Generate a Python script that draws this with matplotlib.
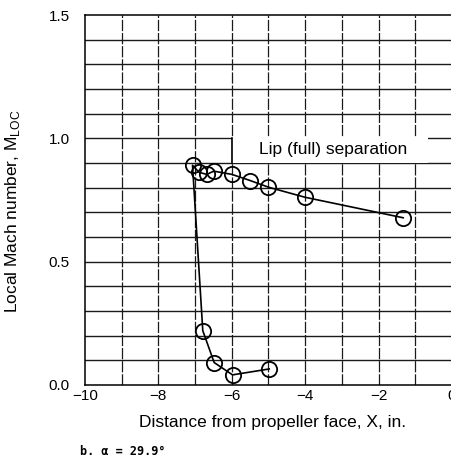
import matplotlib.pyplot as plt
from matplotlib.patches import Rectangle
import numpy as np

# upper branch (lip separation) then the drop to the lower branch
x_dist = [-1.33, -4.0, -5.0, -5.5, -6.0, -6.49, -6.68, -6.89, -7.07,
          -6.79, -6.48, -5.98, -4.98]
m_loc = [0.678, 0.761, 0.802, 0.829, 0.854, 0.867, 0.854, 0.862, 0.891,
         0.220, 0.091, 0.041, 0.065]

x_ticks = [-10, -8, -6, -4, -2, 0]
x_tick_labels = ['\u221210', '\u22128', '\u22126', '\u22124', '\u22122', '0']
y_ticks = [0.0, 0.5, 1.0, 1.5]
y_tick_labels = ['0.0', '0.5', '1.0', '1.5']

plt.rcParams['font.family'] = ['Liberation Sans', 'DejaVu Sans']

fig = plt.figure(figsize=(4.52, 4.63), dpi=100)
ax = fig.add_axes([0.188, 0.1685, 0.812, 0.799])

ax.set_xlim(-10, 0)
ax.set_ylim(0, 1.5)

# grid: every 0.1 in M, every 1 in. in X
for yv in np.arange(0.1, 1.5, 0.1):
    ax.axhline(yv, color='#1a1a1a', lw=1.0, zorder=1)
for xv in range(-9, 0):
    ax.axvline(xv, color='#1a1a1a', lw=0.9, ls=(0, (9, 1.5)), zorder=1)

ax.plot(x_dist, m_loc, color='black', lw=1.2, marker='o', ms=11,
        mfc='none', mec='black', mew=1.3, zorder=3)

# white label panel over the grid
ax.add_patch(Rectangle((-6, 0.9), 5.35, 0.105, fc='white', ec='none', zorder=2))
ax.plot([-6, -6], [0.9, 1.0], color='black', lw=1.2, zorder=2)
ax.text(-3.25, 0.955, 'Lip (full) separation', fontsize=12.5, ha='center',
        va='center', zorder=4)

ax.set_xticks(x_ticks)
ax.set_xticklabels(x_tick_labels)
ax.set_yticks(y_ticks)
ax.set_yticklabels(y_tick_labels)
ax.tick_params(length=0, labelsize=11)
ax.tick_params(axis='x', pad=3)
ax.tick_params(axis='y', pad=11)

ax.set_xlabel('Distance from propeller face, X, in.', fontsize=12.5)
ax.xaxis.set_label_coords(0.51, -0.08)
ax.set_ylabel(r'Local Mach number, M$_{\mathregular{LOC}}$', fontsize=12.5)
ax.yaxis.set_label_coords(-0.172, 0.47)

for s in ax.spines.values():
    s.set_linewidth(1.1)

fig.text(0.177, 0.018, 'b. \u03b1 = 29.9\u00b0', fontsize=8.5,
         family=['DejaVu Sans Mono'], weight='bold')

fig.savefig('out.png', dpi=100)
